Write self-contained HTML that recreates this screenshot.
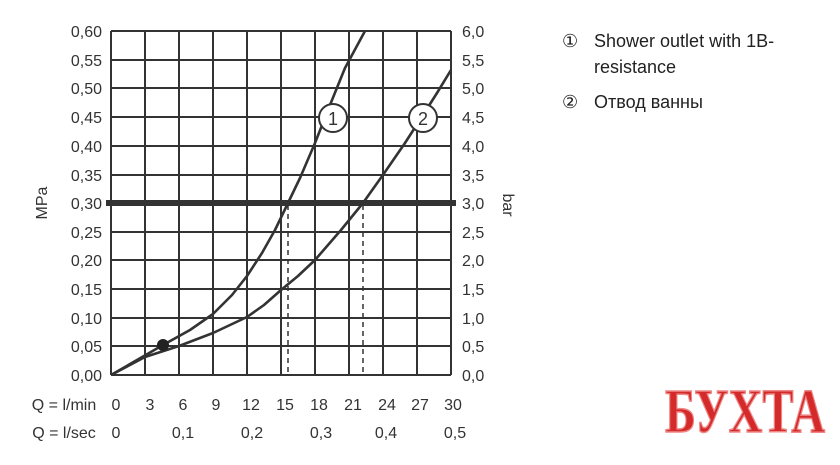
<!DOCTYPE html>
<html><head><meta charset="utf-8"><style>
body{margin:0;background:#fff}
svg{display:block}
text{font-family:"Liberation Sans",sans-serif;fill:#333}
</style></head><body>
<svg width="840" height="465" viewBox="0 0 840 465" xmlns="http://www.w3.org/2000/svg">
<g stroke="#333" stroke-width="2">
<line x1="111" y1="31" x2="451" y2="31"/><line x1="111" y1="60" x2="451" y2="60"/><line x1="111" y1="88" x2="451" y2="88"/><line x1="111" y1="117" x2="451" y2="117"/><line x1="111" y1="146" x2="451" y2="146"/><line x1="111" y1="175" x2="451" y2="175"/><line x1="111" y1="232" x2="451" y2="232"/><line x1="111" y1="260" x2="451" y2="260"/><line x1="111" y1="289" x2="451" y2="289"/><line x1="111" y1="318" x2="451" y2="318"/><line x1="111" y1="346" x2="451" y2="346"/><line x1="111" y1="375" x2="451" y2="375"/>
<line x1="111" y1="31" x2="111" y2="375"/><line x1="145" y1="31" x2="145" y2="375"/><line x1="179" y1="31" x2="179" y2="375"/><line x1="213" y1="31" x2="213" y2="375"/><line x1="247" y1="31" x2="247" y2="375"/><line x1="281" y1="31" x2="281" y2="375"/><line x1="315" y1="31" x2="315" y2="375"/><line x1="349" y1="31" x2="349" y2="375"/><line x1="383" y1="31" x2="383" y2="375"/><line x1="417" y1="31" x2="417" y2="375"/><line x1="451" y1="31" x2="451" y2="375"/>
</g>
<line x1="106" y1="203" x2="456" y2="203" stroke="#333" stroke-width="6"/>
<g stroke="#333" stroke-width="1.5" stroke-dasharray="5,4"><line x1="288" y1="205" x2="288" y2="375"/><line x1="363" y1="205" x2="363" y2="375"/></g>
<g fill="none" stroke="#333" stroke-width="2.6" stroke-linejoin="round">
<polyline points="111,375 137,360 163,345 190,330 213,314 232,295 247,276 262,253 275,230 288,203 300,178 315,143 330,105 345,68 365,31"/>
<polyline points="111,375 145,357 179,346 213,333 247,317 264,305 281,290 298,276 315,260 341,230 363,203 385,172 405,143 423,115 437,93 451,70"/>
</g>
<circle cx="163" cy="345" r="6" fill="#222"/>
<g><circle cx="333" cy="118" r="14" fill="#fff" stroke="#333" stroke-width="2"/><text x="333" y="125" font-size="18" text-anchor="middle">1</text>
<circle cx="423" cy="118" r="14" fill="#fff" stroke="#333" stroke-width="2"/><text x="423" y="125" font-size="18" text-anchor="middle">2</text></g>
<g font-size="16" text-anchor="end">
<text x="102" y="37">0,60</text><text x="102" y="66">0,55</text><text x="102" y="94">0,50</text><text x="102" y="123">0,45</text><text x="102" y="152">0,40</text><text x="102" y="181">0,35</text><text x="102" y="209">0,30</text><text x="102" y="238">0,25</text><text x="102" y="266">0,20</text><text x="102" y="295">0,15</text><text x="102" y="324">0,10</text><text x="102" y="352">0,05</text><text x="102" y="381">0,00</text>
</g>
<g font-size="16">
<text x="462" y="37">6,0</text><text x="462" y="66">5,5</text><text x="462" y="94">5,0</text><text x="462" y="123">4,5</text><text x="462" y="152">4,0</text><text x="462" y="181">3,5</text><text x="462" y="209">3,0</text><text x="462" y="238">2,5</text><text x="462" y="266">2,0</text><text x="462" y="295">1,5</text><text x="462" y="324">1,0</text><text x="462" y="352">0,5</text><text x="462" y="381">0,0</text>
</g>
<text font-size="16" transform="translate(47,203) rotate(-90)" text-anchor="middle">MPa</text>
<text font-size="16" transform="translate(503,205) rotate(90)" text-anchor="middle">bar</text>
<g font-size="16" text-anchor="middle">
<text x="64" y="410">Q = l/min</text>
<text x="116" y="410">0</text><text x="150" y="410">3</text><text x="183" y="410">6</text><text x="216" y="410">9</text><text x="251" y="410">12</text><text x="285" y="410">15</text><text x="319" y="410">18</text><text x="353" y="410">21</text><text x="387" y="410">24</text><text x="420" y="410">27</text><text x="453" y="410">30</text>
<text x="64" y="438">Q = l/sec</text>
<text x="116" y="438">0</text><text x="183" y="438">0,1</text><text x="252" y="438">0,2</text><text x="321" y="438">0,3</text><text x="386" y="438">0,4</text><text x="455" y="438">0,5</text>
</g>
<g font-size="18">
<text x="562" y="47" style="fill:#222">①</text><text x="594" y="47" style="fill:#222">Shower outlet with 1B-</text>
<text x="594" y="73" style="fill:#222">resistance</text>
<text x="562" y="108" style="fill:#222">②</text><text x="594" y="108" style="fill:#222">Отвод ванны</text>
</g>
<text x="745" y="432" font-weight="bold" font-size="62" text-anchor="middle" textLength="160" lengthAdjust="spacingAndGlyphs" style="fill:#d42a2a;stroke:#e88;stroke-width:1.5;font-family:'Liberation Serif',serif">БУХТА</text>
</svg>
</body></html>
